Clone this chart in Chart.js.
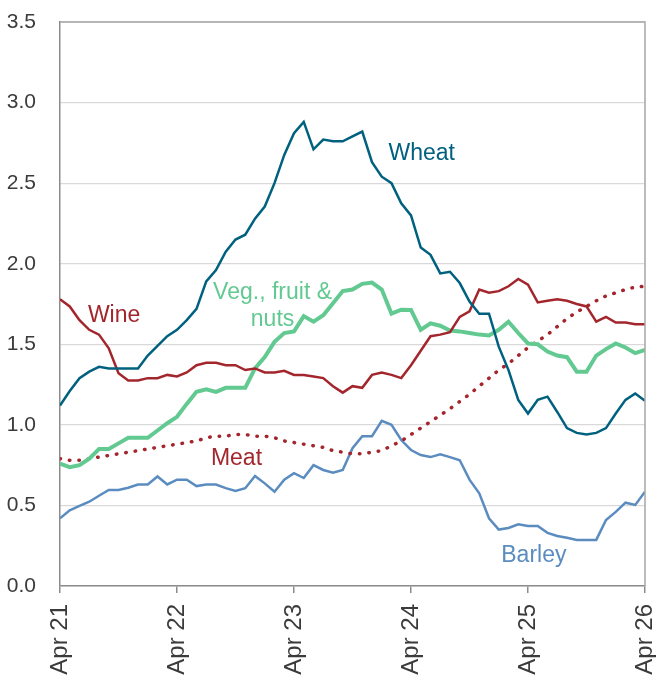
<!DOCTYPE html>
<html>
<head>
<meta charset="utf-8">
<script src="https://cdn.jsdelivr.net/npm/chart.js@4"></script>
<style>
  html, body { margin: 0; padding: 0; background: #fff; }
  #wrap { width: 656px; height: 675px; }
</style>
</head>
<body>
<div id="wrap"><canvas id="chart" width="656" height="675"></canvas></div>
<script>
// monthly, Apr 21 .. Apr 26 (61 points)
const tickLabels = ['Apr 21', 'Apr 22', 'Apr 23', 'Apr 24', 'Apr 25', 'Apr 26'];

const wheat = [1.12, 1.21, 1.29, 1.33, 1.36, 1.35, 1.35, 1.35, 1.35, 1.43,
  1.49, 1.55, 1.59, 1.65, 1.72, 1.89, 1.96, 2.075, 2.15, 2.18,
  2.28, 2.355, 2.50, 2.675, 2.81, 2.88, 2.71, 2.77, 2.76, 2.76,
  2.79, 2.82, 2.63, 2.54, 2.50, 2.375, 2.30, 2.10, 2.055, 1.94,
  1.95, 1.88, 1.765, 1.69, 1.69, 1.485, 1.34, 1.155, 1.07, 1.155,
  1.175, 1.08, 0.98, 0.95, 0.94, 0.95, 0.98, 1.07, 1.155, 1.195,
  1.15];

const wine = [1.78, 1.735, 1.65, 1.59, 1.56, 1.475, 1.32, 1.275, 1.275, 1.29,
  1.29, 1.31, 1.30, 1.325, 1.37, 1.385, 1.385, 1.37, 1.37, 1.34,
  1.35, 1.325, 1.325, 1.335, 1.31, 1.31, 1.30, 1.29, 1.24, 1.20,
  1.24, 1.23, 1.31, 1.325, 1.31, 1.29, 1.37, 1.46, 1.55, 1.56,
  1.575, 1.67, 1.705, 1.84, 1.82, 1.83, 1.86, 1.905, 1.87, 1.76,
  1.77, 1.78, 1.77, 1.75, 1.735, 1.64, 1.67, 1.635, 1.635, 1.625,
  1.625];

const veg = [0.76, 0.737, 0.75, 0.79, 0.85, 0.85, 0.885, 0.92, 0.92, 0.92,
  0.965, 1.01, 1.05, 1.13, 1.205, 1.22, 1.205, 1.23, 1.23, 1.23,
  1.35, 1.42, 1.515, 1.57, 1.58, 1.675, 1.64, 1.68, 1.755, 1.83,
  1.84, 1.875, 1.883, 1.84, 1.69, 1.715, 1.713, 1.59, 1.63, 1.615,
  1.585, 1.58, 1.57, 1.56, 1.555, 1.59, 1.64, 1.57, 1.505, 1.50,
  1.455, 1.43, 1.42, 1.33, 1.33, 1.43, 1.47, 1.505, 1.48, 1.445,
  1.465];

const meat = [0.79, 0.78, 0.78, 0.79, 0.80, 0.81, 0.82, 0.83, 0.84, 0.85,
  0.86, 0.87, 0.88, 0.89, 0.90, 0.92, 0.93, 0.93, 0.94, 0.94,
  0.93, 0.93, 0.92, 0.90, 0.89, 0.88, 0.87, 0.86, 0.84, 0.83,
  0.82, 0.82, 0.83, 0.84, 0.87, 0.90, 0.94, 0.98, 1.02, 1.06,
  1.10, 1.145, 1.19, 1.24, 1.29, 1.34, 1.38, 1.43, 1.48, 1.52,
  1.56, 1.61, 1.66, 1.70, 1.735, 1.77, 1.80, 1.82, 1.84, 1.855,
  1.86];

const barley = [0.42, 0.47, 0.497, 0.523, 0.56, 0.596, 0.596, 0.61, 0.63, 0.63,
  0.68, 0.63, 0.66, 0.66, 0.62, 0.63, 0.63, 0.607, 0.59, 0.607,
  0.683, 0.637, 0.585, 0.66, 0.70, 0.67, 0.75, 0.72, 0.703, 0.72,
  0.855, 0.93, 0.93, 1.025, 1.00, 0.906, 0.844, 0.813, 0.80, 0.817,
  0.80, 0.78, 0.66, 0.575, 0.42, 0.35, 0.36, 0.383, 0.372, 0.372,
  0.33, 0.31, 0.30, 0.286, 0.286, 0.286, 0.41, 0.46, 0.517, 0.503,
  0.585];

const monthIdx = wheat.map((_, i) => i);

const RED = '#a3262d';
const TEAL = '#00617f';
const GREEN = '#62c991';
const BLUE = '#5b8cc0';
const FONT = "'Liberation Sans', Arial, sans-serif";

// series names written on the plot, placed in data units (month index, value)
const seriesLabels = [
  { lines: ['Wheat'], m: 37.1, v: 2.68, color: TEAL },
  { lines: ['Wine'], m: 5.55, v: 1.68, color: RED },
  { lines: ['Veg., fruit &', 'nuts'], m: 21.8, v: 1.82, color: GREEN },
  { lines: ['Meat'], m: 18.1, v: 0.79, color: RED },
  { lines: ['Barley'], m: 48.6, v: 0.19, color: BLUE }
];

const textPlugin = {
  id: 'seriesText',
  afterDatasetsDraw(chart) {
    const {ctx, scales} = chart;
    ctx.save();
    ctx.font = '23px ' + FONT;
    ctx.textAlign = 'center';
    ctx.textBaseline = 'middle';
    seriesLabels.forEach(l => {
      const x = scales.x.getPixelForValue(l.m);
      const y = scales.y.getPixelForValue(l.v);
      ctx.fillStyle = l.color;
      l.lines.forEach((t, i) => ctx.fillText(t, x, y + i * 27));
    });
    ctx.restore();
  }
};

const framePlugin = {
  id: 'frame',
  afterDraw(chart) {
    const {ctx, chartArea: a} = chart;
    ctx.save();
    ctx.strokeStyle = '#a6a6a6';
    ctx.lineWidth = 1.5;
    ctx.beginPath();
    ctx.moveTo(a.left, a.top);
    ctx.lineTo(a.right, a.top);
    ctx.lineTo(a.right, a.bottom);
    ctx.stroke();
    ctx.restore();
  }
};

const line = (data, color, width, extra) => Object.assign({
  data: data,
  borderColor: color,
  borderWidth: width,
  pointRadius: 0,
  tension: 0,
  fill: false
}, extra || {});

new Chart(document.getElementById('chart'), {
  type: 'line',
  data: {
    labels: monthIdx,
    datasets: [
      line(wheat, TEAL, 2.5),
      line(wine, RED, 2.5),
      line(veg, GREEN, 4),
      line(meat, RED, 3.5, {borderDash: [0.5, 9], borderCapStyle: 'round'}),
      line(barley, BLUE, 2.5)
    ]
  },
  options: {
    responsive: false,
    animation: false,
    events: [],
    layout: {padding: {left: 0, top: 22, right: 11, bottom: 0}},
    plugins: {legend: {display: false}, tooltip: {enabled: false}},
    scales: {
      x: {
        type: 'linear',
        min: 0,
        max: 60,
        afterFit: s => { s.paddingLeft = 0; s.paddingRight = 0; s.height = 89; },
        grid: {drawOnChartArea: false, drawTicks: true, tickLength: 7, color: '#8c8c8c', lineWidth: 1.5},
        border: {color: '#8c8c8c', width: 1.5},
        ticks: {
          stepSize: 12,
          minRotation: 90,
          maxRotation: 90,
          padding: 11,
          color: '#3b3b3b',
          font: {family: FONT, size: 24, lineHeight: 1},
          callback: v => tickLabels[v / 12]
        }
      },
      y: {
        min: 0,
        max: 3.5,
        afterFit: s => { s.paddingTop = 0; s.paddingBottom = 0; s.width = 60; },
        grid: {drawTicks: false, color: '#d9d9d9', lineWidth: 1.2},
        border: {color: '#8c8c8c', width: 1.5},
        ticks: {
          stepSize: 0.5,
          padding: 24,
          color: '#3b3b3b',
          font: {family: FONT, size: 21},
          callback: v => v.toFixed(1)
        }
      }
    }
  },
  plugins: [textPlugin, framePlugin]
});
</script>
</body>
</html>
